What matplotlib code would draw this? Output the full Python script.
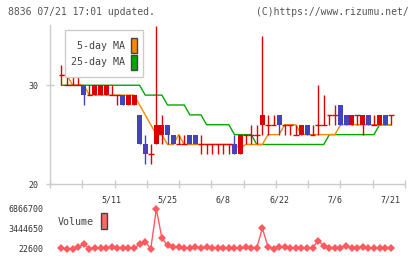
import numpy as np
import matplotlib
matplotlib.use('Agg')
import matplotlib.pyplot as plt
from matplotlib.patches import Rectangle

# daily candles, 60 trading days (4/22 .. 7/21)
opens  = [31, 30, 30, 30, 30, 29, 29, 29, 29, 29,
          29, 29, 28, 28, 27, 24, 23, 24, 25, 26,
          25, 24, 24, 25, 25, 24, 24, 24, 24, 24,
          24, 24, 23, 25, 25, 25, 26, 26, 26, 27,
          26, 26, 25, 25, 26, 25, 26, 26, 27, 27,
          28, 27, 26, 27, 26, 27, 26, 26, 27, 27]
highs  = [32, 31, 31, 31, 30, 30, 30, 30, 30, 30,
          29, 29, 29, 29, 27, 25, 24, 36, 27, 26,
          25, 25, 25, 25, 25, 25, 24, 24, 24, 24,
          24, 25, 25, 25, 26, 26, 35, 27, 27, 27,
          26, 26, 26, 26, 26, 26, 30, 29, 27, 28,
          28, 27, 27, 27, 27, 27, 27, 27, 27, 27]
lows   = [30, 30, 30, 30, 28, 29, 29, 29, 29, 29,
          28, 28, 28, 28, 24, 22, 22, 24, 24, 24,
          24, 24, 24, 24, 24, 23, 23, 23, 23, 23,
          23, 23, 23, 24, 24, 24, 25, 25, 26, 25,
          25, 25, 25, 25, 25, 25, 25, 26, 26, 26,
          26, 26, 26, 26, 25, 26, 26, 26, 26, 26]
closes = [31, 30, 30, 30, 29, 29, 30, 30, 30, 29,
          29, 28, 29, 29, 24, 23, 23, 26, 26, 25,
          24, 24, 24, 24, 24, 24, 24, 24, 24, 24,
          24, 23, 25, 25, 25, 25, 27, 26, 26, 26,
          26, 26, 25, 26, 25, 25, 26, 26, 27, 27,
          26, 26, 27, 27, 27, 26, 26, 27, 26, 27]

ma5  = [31, 31, 30, 30, 30, 29, 29, 29, 29, 29,
        29, 29, 29, 29, 28, 27, 26, 25, 25, 24,
        24, 25, 24, 24, 24, 24, 24, 24, 24, 24,
        24, 24, 23.6, 24, 24, 24, 24, 25, 25, 25,
        26, 26, 26, 25, 25, 25, 25, 25, 25, 25,
        26, 26, 26, 26, 26, 26, 26, 26, 26, 26]
ma25 = [30, 30, 30, 30, 30, 30, 30, 30, 30, 30,
        30, 30, 30, 30, 30, 29, 29, 29, 29, 28,
        28, 28, 28, 27, 27, 27, 26, 26, 26, 26,
        26, 25, 25, 25, 25, 24, 24, 24, 24, 24,
        24, 24, 24, 24, 24, 24, 24, 24, 25, 25,
        25, 25, 25, 25, 25, 25, 25, 26, 26, 26]

volume = [130000, 30000, 40000, 300000, 880000, 30000, 140000, 130000, 250000, 300000,
          140000, 250000, 250000, 140000, 820000, 1280000, 60000, 6866700, 1850000, 700000,
          300000, 300000, 250000, 140000, 300000, 250000, 300000, 250000, 140000, 250000,
          250000, 250000, 140000, 300000, 140000, 250000, 3560000, 420000, 22600, 300000,
          300000, 140000, 250000, 140000, 140000, 250000, 1390000, 600000, 140000, 140000,
          250000, 590000, 140000, 250000, 420000, 140000, 250000, 250000, 140000, 140000]

label_days = [9, 19, 29, 39, 49, 59]
label_text = ['5/11', '5/25', '6/8', '6/22', '7/6', '7/21']
vol_ticks = [22600, 3444650, 6866700]

RED = '#dd0000'
BLUE = '#4343bd'
ORANGE = '#f58a00'
GREEN = '#00a800'
VOLC = '#ff5a5f'
GRID = '#cccccc'
MONO = 'DejaVu Sans Mono'

W, H = 420, 259
fig = plt.figure(figsize=(W / 100, H / 100), dpi=100)

def box(x0, y0, x1, y1):
    # pixel box (from top-left) -> figure fraction rect
    return [x0 / W, 1 - y1 / H, (x1 - x0) / W, (y1 - y0) / H]

ax = fig.add_axes(box(50, 25, 405, 184))
vax = fig.add_axes(box(50, 205, 405, 253))

x = np.arange(len(closes))
o = np.array(opens, float)
c = np.array(closes, float)
hi = np.array(highs, float)
lo = np.array(lows, float)
xlim = (-2.06, 61.56)

ax.plot(x, ma25, color=GREEN, lw=1, zorder=1)
ax.plot(x, ma5, color=ORANGE, lw=1, zorder=1)

up = c > o
dn = c < o
fl = c == o
wick_col = np.where(dn, BLUE, RED)
ax.vlines(x, lo, hi, colors=wick_col, lw=1, zorder=2)
ax.bar(x[up], (c - o)[up], bottom=o[up], width=0.9, color=RED, zorder=3)
ax.bar(x[dn], (o - c)[dn], bottom=c[dn], width=0.9, color=BLUE, zorder=3)
ax.hlines(o[fl], x[fl] - 0.5, x[fl] + 0.5, colors=RED, lw=1, zorder=3)

ax.set_xlim(*xlim)
ax.set_ylim(20, 36.1)
for s in ['top', 'right']:
    ax.spines[s].set_visible(False)
for s in ['left', 'bottom']:
    ax.spines[s].set_color(GRID)
    ax.spines[s].set_linewidth(1)
ax.set_yticks([20, 30])
ax.set_yticklabels(['20', '30'], fontfamily=MONO, fontsize=6, color='#333333')
ax.tick_params(axis='y', direction='inout', length=6, width=1, color=GRID, pad=5)
ax.set_xticks(label_days)
ax.set_xticklabels(label_text, fontfamily=MONO, fontsize=6, color='#333333')
ax.tick_params(axis='x', which='major', length=0, pad=8)
ax.set_xticks(np.linspace(xlim[0], xlim[1], 12), minor=True)
ax.tick_params(axis='x', which='minor', direction='inout', length=6, width=1, color=GRID)

vax.plot(x, volume, color=VOLC, lw=1, marker='D', markersize=4, markeredgewidth=0)
vax.set_xlim(*xlim)
vax.set_ylim(-661810, 7551110)
vax.set_xticks([])
vax.set_yticks(vol_ticks)
vax.set_yticklabels([str(v) for v in vol_ticks], fontfamily=MONO, fontsize=6, color='#333333')
vax.tick_params(axis='y', length=0, pad=5)
for s in vax.spines.values():
    s.set_visible(False)

# header
fig.text(8 / W, 1 - 12 / H, '8836 07/21 17:01 updated.', fontfamily=MONO, fontsize=7,
         color='#555555', ha='left', va='center')
fig.text(409 / W, 1 - 12 / H, '(C)https://www.rizumu.net/', fontfamily=MONO, fontsize=7,
         color='#555555', ha='right', va='center')

# MA legend
fig.add_artist(Rectangle(box(65, 30, 143, 77)[:2], 78 / W, 47 / H, transform=fig.transFigure,
                         fc='white', ec=GRID, lw=1, zorder=5))
fig.text(125 / W, 1 - 46 / H, '5-day MA', fontfamily=MONO, fontsize=7.2, color='#444444',
         ha='right', va='center', zorder=6)
fig.text(125 / W, 1 - 62 / H, '25-day MA', fontfamily=MONO, fontsize=7.2, color='#444444',
         ha='right', va='center', zorder=6)
for y0, col in [(38, ORANGE), (55, GREEN)]:
    r = box(131, y0, 137, y0 + 15)
    fig.add_artist(Rectangle(r[:2], r[2], r[3], transform=fig.transFigure,
                             fc=col, ec='#444444', lw=1, zorder=6))

# volume legend
fig.text(58 / W, 1 - 222 / H, 'Volume', fontfamily=MONO, fontsize=7.2, color='#444444',
         ha='left', va='center')
r = box(101, 213, 107, 229)
fig.add_artist(Rectangle(r[:2], r[2], r[3], transform=fig.transFigure,
                         fc='#ff6666', ec='#444444', lw=1, zorder=6))

fig.savefig('out.png', dpi=100)
